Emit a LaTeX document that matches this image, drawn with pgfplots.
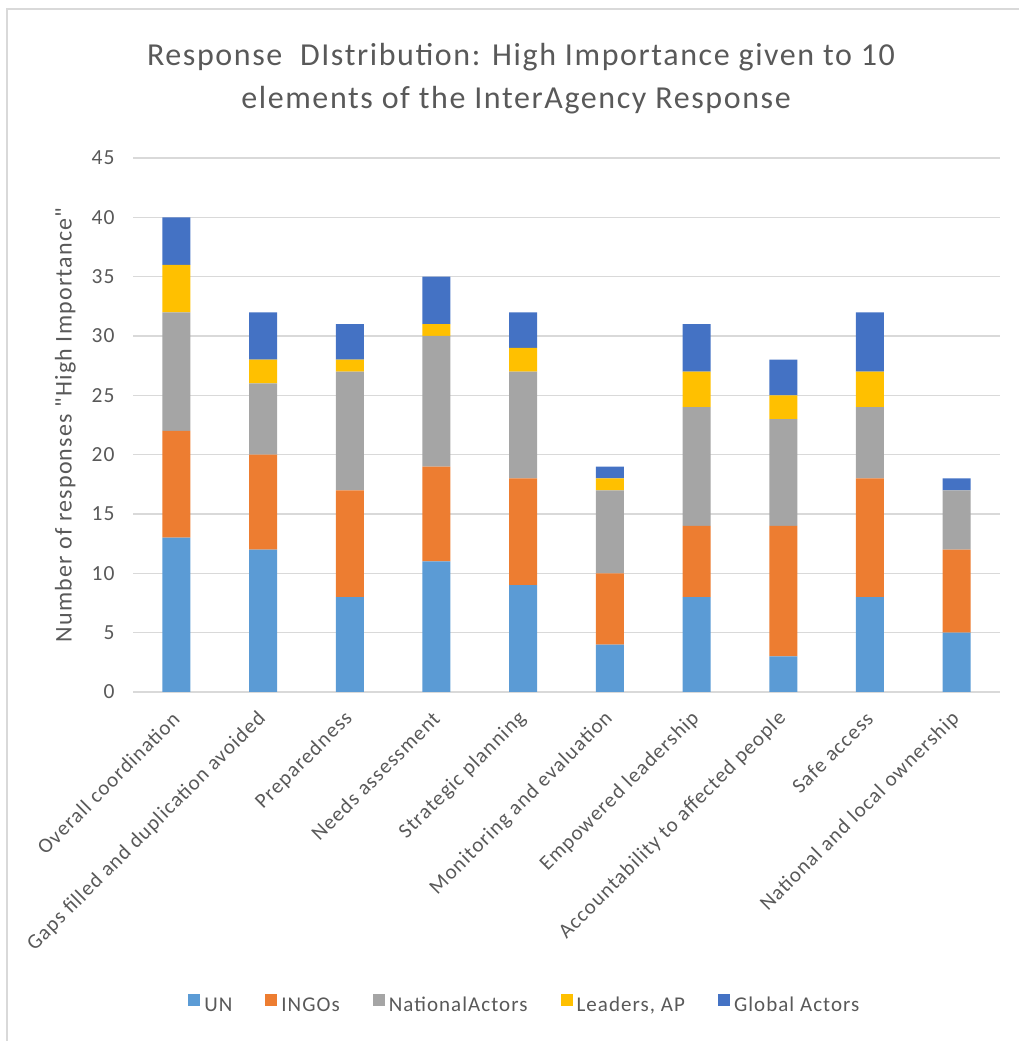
\documentclass[border=0pt]{standalone}
\usepackage{pgfplots}
\pgfplotsset{compat=1.18}
\usepackage{pgfplotstable}
\usepackage{fontspec}
\setmainfont{Carlito}[LetterSpace=5, Ligatures=TeXOff]
\definecolor{cUN}{HTML}{5B9BD5}
\definecolor{cINGO}{HTML}{ED7D31}
\definecolor{cNat}{HTML}{A5A5A5}
\definecolor{cLead}{HTML}{FFC000}
\definecolor{cGlob}{HTML}{4472C4}
\definecolor{txt}{HTML}{595959}
\definecolor{gridc}{HTML}{D9D9D9}
\pgfplotstableread{
x UN INGO Nat Lead Glob
0 13 9 10 4 4
1 12 8 6 2 4
2 8 9 10 1 3
3 11 8 11 1 4
4 9 9 9 2 3
5 4 6 7 1 1
6 8 6 10 3 4
7 3 11 9 2 3
8 8 10 6 3 5
9 5 7 5 0 1
}\datatable
\begin{document}
\begin{tikzpicture}[x=1pt,y=1pt]
\path[use as bounding box] (0,0) rectangle (1019,1041);
\draw[gridc, line width=2pt] (7,0) -- (7,1032) -- (1019,1032);
\node[txt, font=\fontsize{32}{38}\selectfont] at (521,984) {Response\ \ DIstribution: High Importance given to 10};
\node[txt, font=\fontsize{32}{38}\selectfont] at (516,941) {elements of the InterAgency Response};
\begin{axis}[
  at={(133pt,349pt)}, anchor=south west,
  scale only axis, width=867pt, height=534pt,
  ybar stacked, bar width=28pt,
  xmin=-0.5, xmax=9.5, ymin=0, ymax=45,
  ytick={0,5,...,45},
  xtick={0,...,9},
  xticklabels={Overall coordination,Gaps filled and duplication avoided,Preparedness,Needs assessment,Strategic planning,Monitoring and evaluation,Empowered leadership,Accountability to affected people,Safe access,National and local ownership},
  xticklabel style={xshift=2pt, yshift=-21pt, rotate=45, anchor=east, font=\fontsize{21}{25}\selectfont, text=txt},
  yticklabel style={xshift=-15pt, font=\fontsize{21.5}{25}\selectfont, text=txt},
  /pgf/number format/assume math mode=true,
  major tick length=0pt,
  tick style={draw=none},
  axis line style={draw=none},
  xmajorgrids=false,
  ymajorgrids, grid style={draw=gridc, line width=1.3pt},
  ylabel={Number of responses "High Importance"},
  ylabel style={at={(axis description cs:-0.078,0.5)}, anchor=center, font=\fontsize{24}{28}\selectfont, text=txt},
  legend columns=5,
  legend style={at={(0.452,-0.586)}, anchor=center, draw=none, font=\fontsize{21}{25}\selectfont, text=txt,
    /tikz/every even column/.append style={column sep=31pt},
    /tikz/every odd column/.append style={column sep=2pt}},
  legend image code/.code={\fill[#1] (0pt,-1pt) rectangle (12pt,11pt);},
]
\addplot[fill=cUN, draw=none] table[x=x,y=UN]{\datatable};
\addplot[fill=cINGO, draw=none] table[x=x,y=INGO]{\datatable};
\addplot[fill=cNat, draw=none] table[x=x,y=Nat]{\datatable};
\addplot[fill=cLead, draw=none] table[x=x,y=Lead]{\datatable};
\addplot[fill=cGlob, draw=none] table[x=x,y=Glob]{\datatable};
\legend{UN,INGOs,NationalActors,{Leaders, AP},Global Actors}
\end{axis}
\end{tikzpicture}
\end{document}
